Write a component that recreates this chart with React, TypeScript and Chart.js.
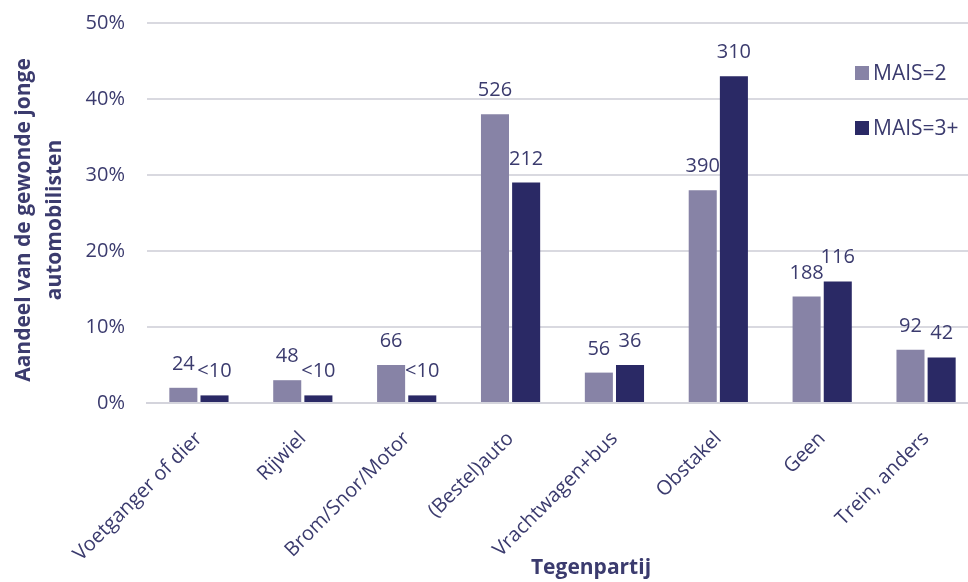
import React, { useEffect, useRef } from "react";
import { Chart, registerables } from "chart.js";

Chart.register(...registerables);

const categories = [
  "Voetganger of dier",
  "Rijwiel",
  "Brom/Snor/Motor",
  "(Bestel)auto",
  "Vrachtwagen+bus",
  "Obstakel",
  "Geen",
  "Trein, anders",
];

// share of injured young drivers per opponent type (%)
const mais2Share = [2, 3, 5, 38, 4, 28, 14, 7];
const mais3Share = [1, 1, 1, 29, 5, 43, 16, 6];

// counts printed above the bars
const mais2Counts = ["24", "48", "66", "526", "56", "390", "188", "92"];
const mais3Counts = ["<10", "<10", "<10", "212", "36", "310", "116", "42"];

const seriesNames = ["MAIS=2", "MAIS=3+"];
const yTicks = [0, 10, 20, 30, 40, 50];

const COLOR_LIGHT = "#8783a6";
const COLOR_DARK = "#2a2965";
const TEXT = "#3b3b6e";
const FONT = "'Open Sans', 'Noto Sans', sans-serif";

const countLabels = {
  id: "countLabels",
  afterDatasetsDraw(chart: any) {
    const ctx = chart.ctx;
    const sets = [mais2Counts, mais3Counts];
    ctx.save();
    ctx.fillStyle = TEXT;
    ctx.font = `20px ${FONT}`;
    ctx.textAlign = "center";
    ctx.textBaseline = "alphabetic";
    chart.data.datasets.forEach((_: any, di: number) => {
      const meta = chart.getDatasetMeta(di);
      meta.data.forEach((bar: any, i: number) => {
        ctx.fillText(sets[di][i], bar.x, bar.y - 18);
      });
    });
    ctx.restore();
  },
};

const extras = {
  id: "extras",
  afterDraw(chart: any) {
    const ctx = chart.ctx;
    ctx.save();
    ctx.fillStyle = TEXT;

    // y axis title, two lines, rotated
    ctx.font = `bold 21px ${FONT}`;
    ctx.textAlign = "center";
    ctx.textBaseline = "middle";
    ctx.save();
    ctx.translate(24, 220);
    ctx.rotate(-Math.PI / 2);
    ctx.fillText("Aandeel van de gewonde jonge", 0, 0);
    ctx.fillText("automobilisten", 0, 31);
    ctx.restore();

    // x axis title
    ctx.font = `bold 21px ${FONT}`;
    ctx.fillText("Tegenpartij", 591, 568);

    // legend
    const colors = [COLOR_LIGHT, COLOR_DARK];
    ctx.font = `21px ${FONT}`;
    ctx.textAlign = "left";
    seriesNames.forEach((name, i) => {
      const y = 73 + i * 55;
      ctx.fillStyle = colors[i];
      ctx.fillRect(855, y - 7, 14, 14);
      ctx.fillStyle = TEXT;
      ctx.fillText(name, 873, y + 1);
    });
    ctx.restore();
  },
};

export default function App() {
  const ref = useRef<HTMLCanvasElement | null>(null);

  useEffect(() => {
    if (!ref.current) return;
    const chart = new Chart(ref.current, {
      type: "bar",
      data: {
        labels: categories,
        datasets: [
          {
            label: seriesNames[0],
            data: mais2Share,
            backgroundColor: COLOR_LIGHT,
            categoryPercentage: 0.6,
            barPercentage: 0.9,
          },
          {
            label: seriesNames[1],
            data: mais3Share,
            backgroundColor: COLOR_DARK,
            categoryPercentage: 0.6,
            barPercentage: 0.9,
          },
        ],
      },
      options: {
        animation: false,
        responsive: false,
        maintainAspectRatio: false,
        layout: { padding: { top: 23, right: 32, left: 0, bottom: 0 } },
        plugins: {
          legend: { display: false },
          tooltip: { enabled: false },
        },
        scales: {
          x: {
            grid: { display: false, drawTicks: false },
            border: { color: "#d4d4dc", width: 2 },
            ticks: {
              color: TEXT,
              font: { family: FONT, size: 20 },
              maxRotation: 45,
              minRotation: 45,
              padding: 24,
              autoSkip: false,
            },
            afterFit(scale: any) {
              scale.height = 179;
              scale.paddingLeft = 0;
              scale.paddingRight = 0;
              scale.paddingTop = 0;
              scale.paddingBottom = 0;
            },
          },
          y: {
            min: 0,
            max: 50,
            afterBuildTicks(scale: any) {
              scale.ticks = yTicks.map((v) => ({ value: v }));
            },
            grid: { color: "#d9d9e0", lineWidth: 2, drawTicks: false },
            border: { display: false },
            ticks: {
              color: TEXT,
              font: { family: FONT, size: 20 },
              padding: 22,
              callback: (v: any) => `${v}%`,
            },
            afterFit(scale: any) {
              scale.width = 147;
              scale.paddingTop = 0;
              scale.paddingBottom = 0;
            },
          },
        },
      },
      plugins: [countLabels, extras],
    });
    return () => chart.destroy();
  }, []);

  return (
    <div style={{ position: "fixed", left: 0, top: 0, width: 1010, height: 582, background: "#fff" }}>
      <canvas ref={ref} width={1010} height={582} />
    </div>
  );
}
